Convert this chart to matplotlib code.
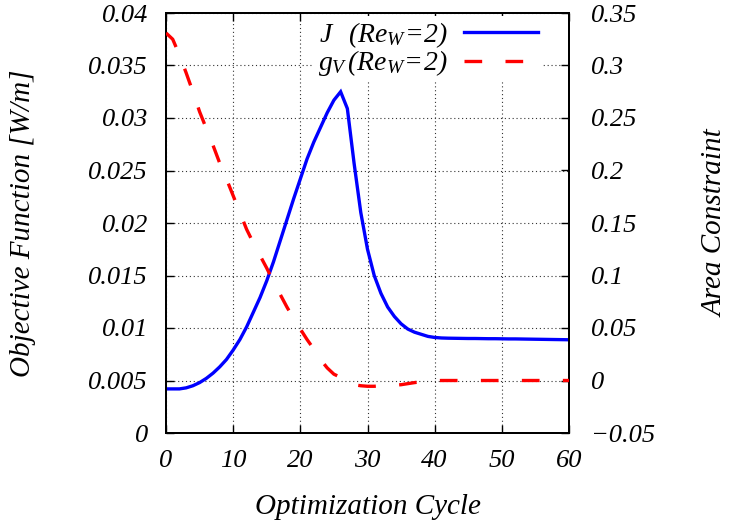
import matplotlib
matplotlib.use("Agg")
import matplotlib.pyplot as plt
from matplotlib.ticker import FixedLocator, FuncFormatter

# ---- data -------------------------------------------------------------
cycles = list(range(0, 61))

objective_J = [
    0.0042, 0.0042, 0.0042, 0.0043, 0.0045, 0.0048, 0.0052, 0.0057, 0.0063, 0.0070,
    0.0079, 0.0089, 0.0101, 0.0115, 0.0129, 0.0145, 0.0163, 0.0183, 0.0203, 0.0223,
    0.0242, 0.0261, 0.0277, 0.0291, 0.0305, 0.0317, 0.0325, 0.0309, 0.0257, 0.0210,
    0.0175, 0.0150, 0.0133, 0.0120, 0.0111, 0.0104, 0.0099, 0.0096, 0.0094, 0.0092,
    0.0091, 0.00905, 0.00903, 0.00902, 0.00901, 0.00900, 0.00900, 0.00899, 0.00898, 0.00898,
    0.00897, 0.00896, 0.00896, 0.00895, 0.00894, 0.00893, 0.00892, 0.00891, 0.00890, 0.00889,
    0.00888,
]

area_constraint = [
    0.331, 0.325, 0.310, 0.293, 0.275, 0.256, 0.240, 0.224, 0.207, 0.192,
    0.176, 0.160, 0.144, 0.131, 0.119, 0.107, 0.094, 0.082, 0.070, 0.059,
    0.049, 0.039, 0.030, 0.020, 0.012, 0.006, 0.003, 0.000, -0.004, -0.005,
    -0.0055, -0.0055, -0.005, -0.0048, -0.0045, -0.004, -0.003, -0.002, -0.0012, -0.0006,
    -0.0002, 0.0, 0.0, 0.0, 0.0, 0.0, 0.0, 0.0, 0.0, 0.0,
    0.0, 0.0, 0.0, 0.0, 0.0, 0.0, 0.0, 0.0, 0.0, 0.0,
    0.0,
]

x_ticks = [0, 10, 20, 30, 40, 50, 60]
left_ticks = [0, 0.005, 0.01, 0.015, 0.02, 0.025, 0.03, 0.035, 0.04]
right_ticks = [-0.05, 0, 0.05, 0.1, 0.15, 0.2, 0.25, 0.3, 0.35]

label_J = r'$J\;\;\;(Re_{W}\!=\!2)$'
label_g = r'$g_{V}\,(Re_{W}\!=\!2)$'

# ---- style ------------------------------------------------------------
FONT = 'Liberation Serif'
plt.rcParams['font.family'] = FONT
plt.rcParams['font.style'] = 'italic'
plt.rcParams['mathtext.fontset'] = 'custom'
plt.rcParams['mathtext.rm'] = 'Liberation Serif:italic'
plt.rcParams['mathtext.it'] = 'Liberation Serif:italic'
plt.rcParams['mathtext.bf'] = 'Liberation Serif:italic:bold'
plt.rcParams['axes.unicode_minus'] = True

FS = 19
LABEL_FS = 21

fig = plt.figure(figsize=(7.31, 5.24), dpi=100)
ax = fig.add_axes([166 / 731, 1 - 433 / 524, (569 - 166) / 731, (433 - 13) / 524])
ax2 = ax.twinx()

line_J, = ax.plot(cycles, objective_J, color='#0000ff', lw=2.4, zorder=3,
                  solid_joinstyle='miter')
line_g, = ax2.plot(cycles, area_constraint, color='#ff0000', lw=2.4,
                   linestyle=(0, (5.3, 7.0)), zorder=3)

ax.set_xlim(0, 60)
ax.set_ylim(0, 0.04)
ax2.set_ylim(-0.05, 0.35)

ax.xaxis.set_major_locator(FixedLocator(x_ticks))
ax.yaxis.set_major_locator(FixedLocator(left_ticks))
ax2.yaxis.set_major_locator(FixedLocator(right_ticks))

ax.xaxis.set_major_formatter(FuncFormatter(lambda v, p: f'{v:g}'))
ax.yaxis.set_major_formatter(FuncFormatter(lambda v, p: f'{v:g}'))
ax2.yaxis.set_major_formatter(
    FuncFormatter(lambda v, p: f'{v:g}'.replace('-', '\u2212')))

ax.grid(True, color='#333333', linestyle=(0, (1, 2.5)), lw=0.8)
ax.set_axisbelow(True)

ax.tick_params(axis='both', direction='in', length=6, width=1.0,
               labelsize=FS, top=True, right=False, color='black')
ax.tick_params(axis='x', pad=12)
ax.tick_params(axis='y', pad=13)
ax2.tick_params(axis='y', direction='in', length=6, width=1.0,
                labelsize=FS, pad=16, color='black')

for spine in list(ax.spines.values()) + list(ax2.spines.values()):
    spine.set_linewidth(1.4)
    spine.set_color('black')

ax.set_xlabel('Optimization Cycle', fontsize=LABEL_FS, labelpad=16)
ax.set_ylabel('Objective Function [W/m]', fontsize=LABEL_FS, labelpad=38)
ax2.set_ylabel('Area Constraint', fontsize=LABEL_FS, labelpad=34)

leg = ax2.legend([line_J, line_g], [label_J, label_g], fontsize=20,
                 loc='upper right', bbox_to_anchor=(0.94, 1.0),
                 markerfirst=False, frameon=True, fancybox=False,
                 facecolor='white', edgecolor='none', framealpha=1.0,
                 handlelength=2.65, handletextpad=0.6, labelspacing=-0.05,
                 borderpad=0.15, borderaxespad=0.1)
leg.set_zorder(5)

fig.savefig('out.png', dpi=100)
